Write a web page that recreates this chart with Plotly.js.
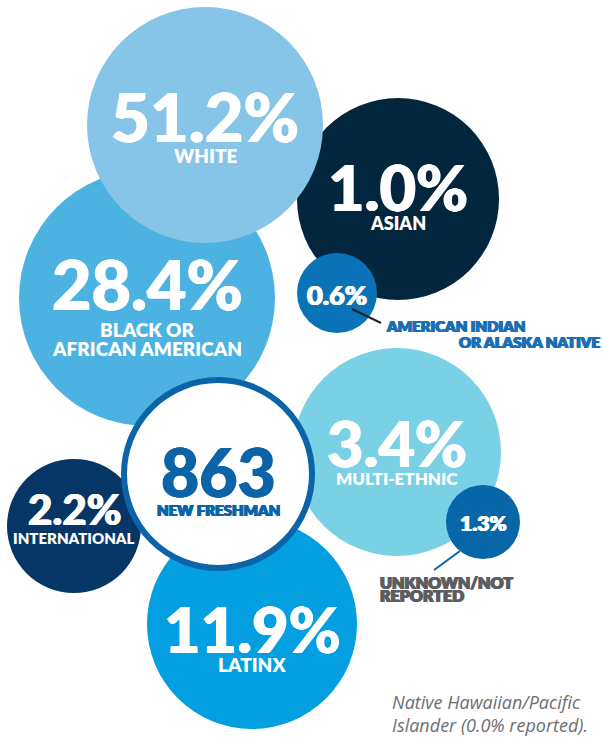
<!DOCTYPE html>
<html>
<head>
<meta charset="utf-8">
<script src="https://cdn.plot.ly/plotly-3.0.1.min.js"></script>
<style>
  html, body { margin: 0; padding: 0; background: #ffffff; }
  #chart { width: 603px; height: 737px; }
</style>
</head>
<body>
<div id="chart"></div>
<script>
// ---------------- DATA ----------------
const categories = ['Asian', 'Black or African American', 'White', 'American Indian or Alaska Native',
                    'Multi-Ethnic', 'Latinx', 'International', 'Unknown/Not Reported'];
const values = [1.0, 28.4, 51.2, 0.6, 3.4, 11.9, 2.2, 1.3];
const labels = ['ASIAN', 'BLACK OR<br>AFRICAN AMERICAN', 'WHITE', 'AMERICAN INDIAN<br>OR ALASKA NATIVE',
                'MULTI-ETHNIC', 'LATINX', 'INTERNATIONAL', 'UNKNOWN/NOT<br>REPORTED'];
const totalCount = 863;
const totalLabel = 'NEW FRESHMAN';
const noteText = 'Native Hawaiian/Pacific<br>Islander (0.0% reported).';

// ---------------- LAYOUT (positions, sizes, styles) ----------------
const cx = [398, 147, 205, 337, 397, 252, 74, 483];
const cy = [199, 298, 125, 293, 452, 624, 526, 522];
const radius = [101, 128, 118, 40, 104, 105, 67, 37];
const colors = ['#02263d', '#4bb2e2', '#86c5e8', '#0a72b6', '#7ad0e5', '#039fe0', '#063665', '#0766a8'];
const valSize = [63, 68, 67, 27, 63, 63, 42, 21];
const valY = [186, 283, 116, 294, 442, 628, 509, 522];
const labY = [223, 329, 155, null, 478, 664, 538, null];
const labSize = [18, 19, 19, 15, 17, 19, 15, 16];
const labGap = 19;
// outside labels (for small circles): one entry per text line
const outside = {
  3: {lines: [{x: 384, y: 326, xanchor: 'left'}, {x: 602, y: 342, xanchor: 'right'}],
      color: '#1a6fb4', line: [[352, 381], [309, 323]], lineColor: '#231f20'},
  7: {lines: [{x: 378, y: 582, xanchor: 'left'}, {x: 378, y: 595, xanchor: 'left'}],
      color: '#5c5d61', line: [[460, 434], [551, 570]], lineColor: '#0766a8'}
};
const center = {x: 218, y: 474, r: 94, stroke: 6, color: '#0b64a8'};

const FONT = 'Lato, "Open Sans", "DejaVu Sans", sans-serif';
const heavy = c => `0.7px 0 0 ${c}, -0.7px 0 0 ${c}, 0 0.4px 0 ${c}`;

const traces = [];
traces.push({
  type: 'scatter', mode: 'markers',
  x: cx, y: cy,
  text: categories, hoverinfo: 'text',
  marker: {size: radius.map(r => 2 * r), sizemode: 'diameter', color: colors, opacity: 1, line: {width: 0}}
});
Object.keys(outside).forEach(k => {
  const o = outside[k];
  traces.push({type: 'scatter', mode: 'lines', x: o.line[0], y: o.line[1],
    line: {color: o.lineColor, width: 2}, hoverinfo: 'skip'});
});
traces.push({
  type: 'scatter', mode: 'markers', x: [center.x], y: [center.y],
  text: [totalCount + ' ' + totalLabel], hoverinfo: 'text',
  marker: {size: center.r * 2, color: '#ffffff', line: {color: center.color, width: center.stroke}}
});

const annotations = [];
values.forEach((v, i) => {
  annotations.push({
    x: cx[i], y: valY[i], xref: 'x', yref: 'y', showarrow: false,
    text: v.toFixed(1) + '%', xanchor: 'center', yanchor: 'middle',
    font: {family: FONT, size: valSize[i], color: '#ffffff', weight: 900, shadow: heavy('#ffffff')}
  });
  const parts = labels[i].split('<br>');
  if (labY[i] !== null) {
    parts.forEach((p, j) => annotations.push({
      x: cx[i], y: labY[i] + j * labGap, xref: 'x', yref: 'y', showarrow: false,
      text: p, xanchor: 'center', yanchor: 'middle', align: 'center',
      font: {family: FONT, size: labSize[i], color: '#ffffff', weight: 800}
    }));
  } else {
    const o = outside[i];
    parts.forEach((p, j) => annotations.push({
      x: o.lines[j].x, y: o.lines[j].y, xref: 'x', yref: 'y', showarrow: false,
      text: p, xanchor: o.lines[j].xanchor, yanchor: 'middle',
      font: {family: FONT, size: labSize[i], color: o.color, weight: 800, shadow: heavy(o.color)}
    }));
  }
});
annotations.push({
  x: center.x, y: 471, xref: 'x', yref: 'y', showarrow: false,
  text: String(totalCount), xanchor: 'center', yanchor: 'middle',
  font: {family: FONT, size: 66, color: center.color, weight: 900, shadow: heavy(center.color)}
});
annotations.push({
  x: center.x, y: 510, xref: 'x', yref: 'y', showarrow: false,
  text: totalLabel, xanchor: 'center', yanchor: 'middle',
  font: {family: FONT, size: 15, color: center.color, weight: 800, shadow: heavy(center.color)}
});
annotations.push({
  x: 390, y: 713, xref: 'x', yref: 'y', showarrow: false,
  text: '<i>' + noteText + '</i>', xanchor: 'left', yanchor: 'middle', align: 'left',
  font: {family: '"Open Sans", Lato, sans-serif', size: 18, color: '#6d6e71'}
});

const layout = {
  width: 603, height: 737,
  margin: {l: 0, r: 0, t: 0, b: 0, pad: 0},
  paper_bgcolor: '#ffffff', plot_bgcolor: '#ffffff',
  showlegend: false,
  xaxis: {range: [0, 603], visible: false, fixedrange: true},
  yaxis: {range: [737, 0], visible: false, fixedrange: true},
  annotations: annotations
};

Plotly.newPlot('chart', traces, layout, {displayModeBar: false, staticPlot: true});
</script>
</body>
</html>
